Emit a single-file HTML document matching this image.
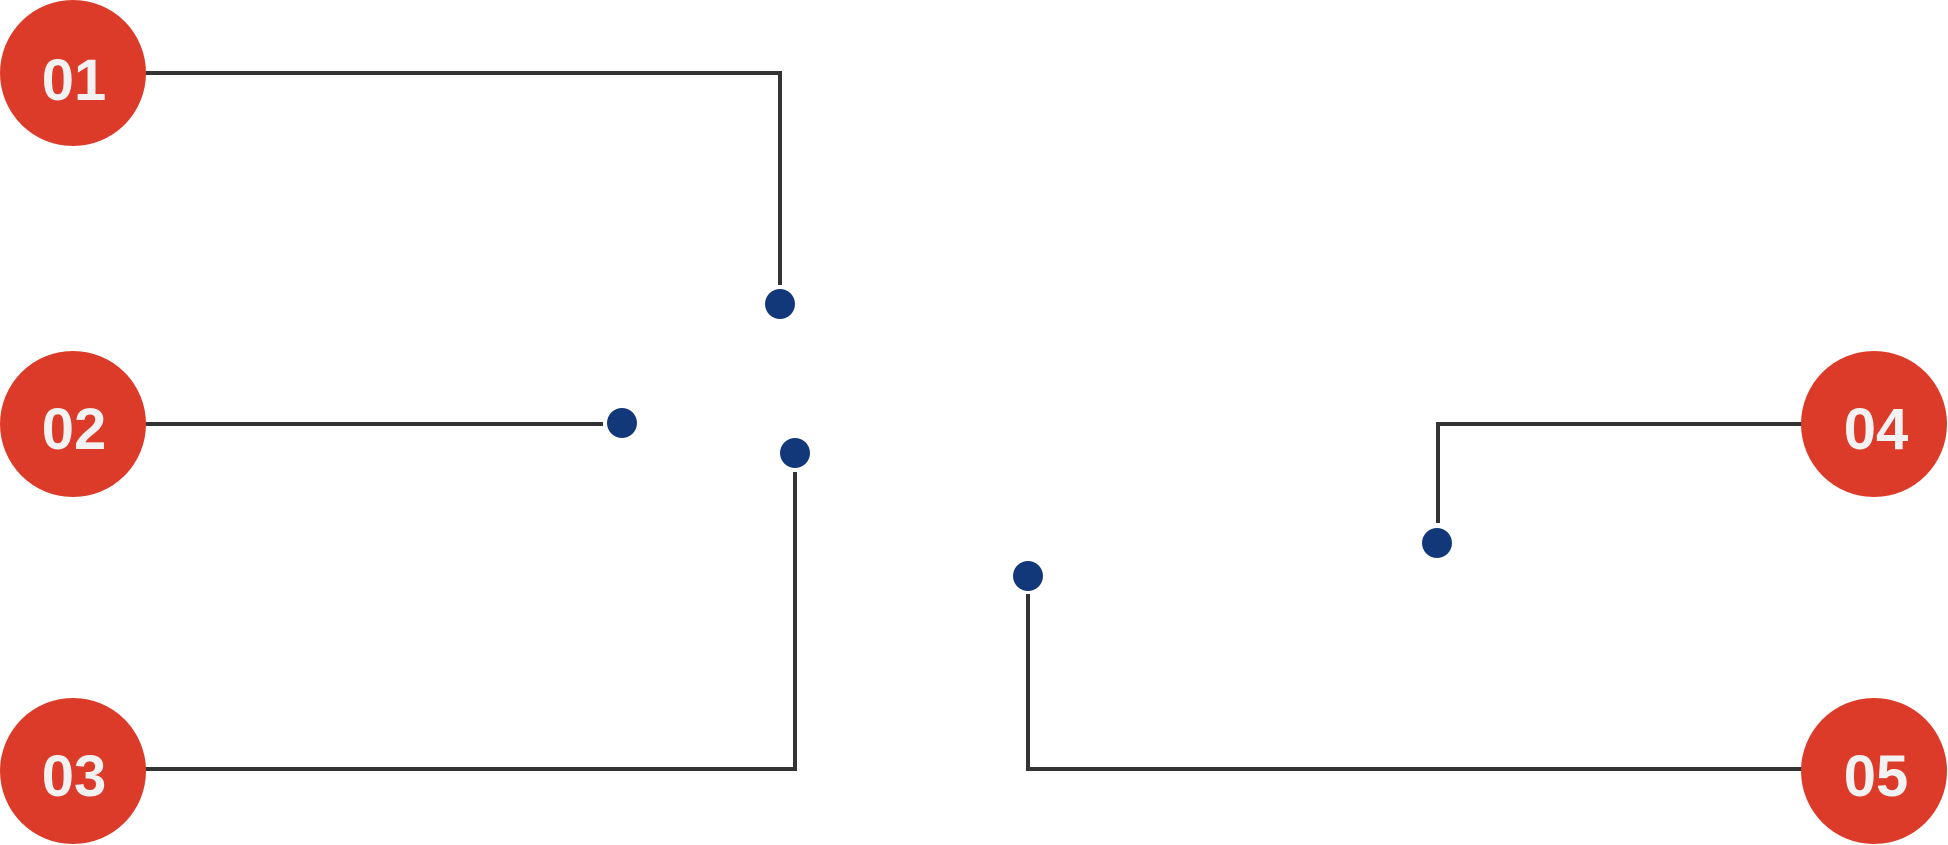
<!DOCTYPE html>
<html><head><meta charset="utf-8"><style>
html,body{margin:0;padding:0;background:#fff;width:1948px;height:845px;overflow:hidden}
</style></head><body>
<svg width="1948" height="845" xmlns="http://www.w3.org/2000/svg">
<g fill="none" stroke="#333" stroke-width="4">
<polyline points="140,73 780,73 780,285"/>
<polyline points="140,424 603,424"/>
<polyline points="140,769 795,769 795,472"/>
<polyline points="1805,424 1438,424 1438,523"/>
<polyline points="1805,769 1028,769 1028,594"/>
</g>
<g fill="#12387a">
<circle cx="780" cy="304" r="15"/>
<circle cx="622" cy="423" r="15"/>
<circle cx="795" cy="453" r="15"/>
<circle cx="1437" cy="543" r="15"/>
<circle cx="1028" cy="576" r="15"/>
</g>
<g fill="#dc3b29">
<circle cx="73" cy="73" r="73"/>
<circle cx="73" cy="424" r="73"/>
<circle cx="73" cy="771" r="73"/>
<circle cx="1874" cy="424" r="73"/>
<circle cx="1874" cy="771" r="73"/>
</g>
<g fill="#f2f2f2" font-family="Liberation Sans, sans-serif" font-weight="bold" font-size="58" text-anchor="middle">
<text x="74" y="100">01</text>
<text x="74" y="449">02</text>
<text x="74" y="796">03</text>
<text x="1876" y="449">04</text>
<text x="1876" y="796">05</text>
</g>
</svg>
</body></html>
